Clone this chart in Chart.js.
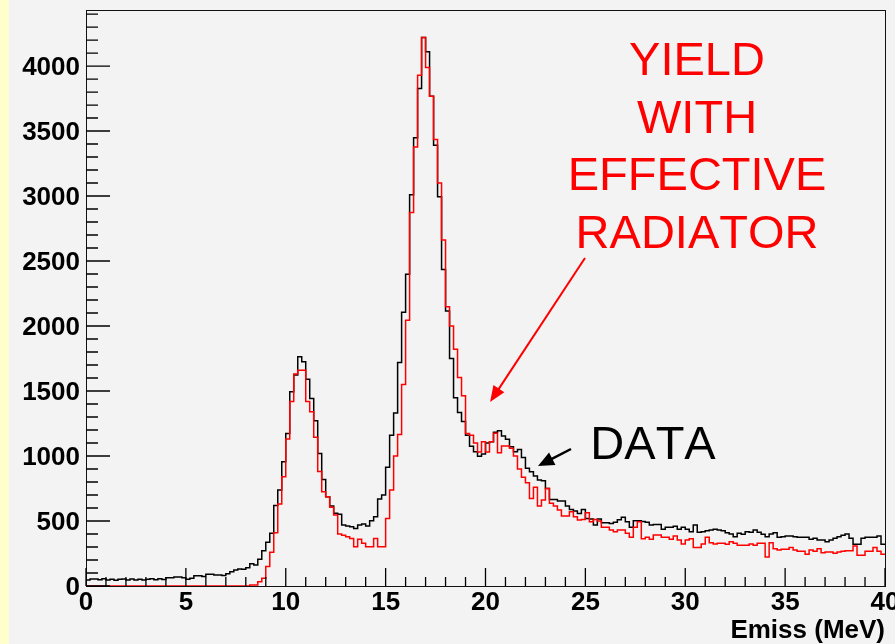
<!DOCTYPE html>
<html>
<head>
<meta charset="utf-8">
<script src="https://cdn.jsdelivr.net/npm/chart.js@4.4.1/dist/chart.umd.min.js"></script>
<style>
    html, body { margin: 0; padding: 0; background: #f3f3f3; }
</style>
</head>
<body>
<canvas id="emissChart" width="895" height="644"></canvas>
<script>
// histogram binning (MeV)
const xMin = 0;
const xMax = 40;
const binWidth = 0.2;
const yMax = 4431;

const xTickLabels = [0, 5, 10, 15, 20, 25, 30, 35, 40];
const yTickLabels = [0, 500, 1000, 1500, 2000, 2500, 3000, 3500, 4000];

// counts per 0.2 MeV bin
const dataCounts = [
    46, 54, 54, 49, 56, 46, 51, 44, 51, 54, 46, 54, 46, 51, 46, 51, 56, 49, 56, 50,
    64, 64, 69, 69, 64, 51, 59, 79, 79, 74, 90, 90, 85, 85, 80, 95, 110, 123, 130, 128,
    140, 172, 162, 205, 272, 336, 405, 620, 738, 956, 1174, 1494, 1623, 1764, 1726, 1590, 1443, 1271, 1020, 820,
    687, 615, 559, 551, 469, 461, 456, 443, 469, 477, 461, 502, 533, 669, 700, 913, 1160, 1330, 1720, 2105,
    2399, 3009, 3448, 3827, 4219, 4109, 3768, 3390, 2994, 2434, 2116, 1751, 1449, 1334, 1265, 1160, 1076, 1032, 999, 1015,
    1100, 1110, 1182, 1194, 1153, 1128, 1071, 1032, 1050, 989, 905, 879, 846, 815, 810, 751, 666, 666, 653, 653,
    615, 589, 576, 558, 589, 520, 515, 469, 515, 487, 487, 480, 490, 510, 528, 495, 451, 502, 502, 497,
    490, 469, 474, 474, 436, 451, 451, 459, 436, 451, 436, 418, 469, 413, 418, 425, 430, 436, 430, 425,
    410, 400, 379, 405, 398, 418, 413, 430, 413, 398, 379, 400, 410, 375, 379, 385, 385, 379, 375, 375,
    375, 359, 367, 354, 354, 341, 354, 367, 379, 390, 400, 367, 321, 321, 367, 375, 375, 375, 385, 321
];

const yieldCounts = [
    0, 0, 0, 0, 0, 0, 0, 0, 0, 0, 0, 0, 0, 0, 0, 0, 0, 0, 0, 0,
    0, 0, 0, 0, 0, 0, 0, 0, 0, 0, 0, 0, 0, 0, 0, 0, 0, 0, 0, 0,
    0, 8, 8, 33, 59, 150, 260, 410, 630, 841, 1130, 1420, 1630, 1660, 1660, 1420, 1340, 1145, 880, 725,
    687, 605, 546, 400, 390, 379, 366, 302, 359, 328, 302, 302, 366, 302, 302, 520, 738, 1000, 1166, 1551,
    2045, 2873, 3378, 3930, 4219, 3988, 3768, 3434, 3100, 2661, 2149, 2001, 1822, 1604, 1463, 1174, 1160, 1100, 1030, 1110,
    1030, 1110, 1176, 1025, 1077, 1077, 1060, 1000, 900, 836, 795, 674, 759, 615, 661, 751, 636, 615, 584, 538,
    538, 571, 533, 507, 512, 564, 494, 512, 500, 451, 451, 430, 418, 430, 430, 405, 375, 451, 495, 364,
    375, 359, 392, 392, 375, 375, 359, 385, 354, 323, 354, 364, 297, 297, 323, 375, 333, 323, 328, 328,
    321, 341, 328, 313, 313, 313, 323, 313, 328, 328, 223, 333, 287, 277, 282, 282, 297, 277, 267, 267,
    244, 277, 267, 287, 256, 262, 262, 251, 262, 267, 272, 272, 308, 236, 236, 267, 267, 297, 267, 244
];

// tick spacing for the inward ROOT-style ticks
const xMinorTicks = [];
for (let v = xMin; v <= xMax; v += 1) xMinorTicks.push(v);
const yMinorTicks = [];
for (let v = 0; v <= yMax; v += 100) yMinorTicks.push(v);

// annotations, in data units
const yieldLabelLines = ['YIELD', 'WITH', 'EFFECTIVE', 'RADIATOR'];
const yieldLabelBaselines = [3931, 3487, 3046, 2600];
const yieldLabelX = 30.59;
const dataLabel = { text: 'DATA', x: 25.25, y: 975 };
const yieldArrow = { from: [24.98, 2523], to: [20.23, 1415] };
const dataArrow = { from: [24.28, 1054], to: [22.63, 923] };

const fontFamily = '"Liberation Sans", Arial, Helvetica, sans-serif';
const axisFont = { family: fontFamily, size: 26, weight: 'bold' };

function toSteps(counts) {
    // one point per low bin edge, plus the closing edge
    const pts = counts.map((c, i) => ({ x: xMin + i * binWidth, y: c }));
    pts.push({ x: xMax, y: counts[counts.length - 1] });
    return pts;
}

function fixBox(width, height) {
    return function (scale) {
        if (width !== null) scale.width = width;
        if (height !== null) scale.height = height;
        scale.paddingLeft = 0;
        scale.paddingRight = 0;
        scale.paddingTop = 0;
        scale.paddingBottom = 0;
    };
}

function drawArrow(g, x1, y1, x2, y2, color, width, headLen, headWidth) {
    const ang = Math.atan2(y2 - y1, x2 - x1);
    const cos = Math.cos(ang), sin = Math.sin(ang);
    g.strokeStyle = color;
    g.lineWidth = width;
    g.beginPath();
    g.moveTo(x1, y1);
    g.lineTo(x2 - cos * headLen * 0.8, y2 - sin * headLen * 0.8);
    g.stroke();
    g.fillStyle = color;
    g.beginPath();
    g.moveTo(x2, y2);
    g.lineTo(x2 - headLen * cos + headWidth / 2 * sin, y2 - headLen * sin - headWidth / 2 * cos);
    g.lineTo(x2 - headLen * cos - headWidth / 2 * sin, y2 - headLen * sin + headWidth / 2 * cos);
    g.closePath();
    g.fill();
}

const rootFrame = {
    id: 'rootFrame',
    beforeDraw(chart) {
        const g = chart.ctx;
        g.save();
        g.fillStyle = '#f3f3f3';
        g.fillRect(0, 0, chart.width, chart.height);
        g.fillStyle = '#ffffcc';
        g.fillRect(0, 0, 9, chart.height);
        g.restore();
    },
    beforeDatasetsDraw(chart) {
        const g = chart.ctx;
        const a = chart.chartArea;
        g.save();
        g.strokeStyle = '#111';
        g.lineWidth = 1;
        g.strokeRect(a.left + 0.5, a.top + 0.5, a.right - a.left, a.bottom - a.top);
        g.restore();
    },
    afterDraw(chart) {
        const g = chart.ctx;
        const a = chart.chartArea;
        const x = chart.scales.x;
        const y = chart.scales.y;
        g.save();

        // inward ticks: long every 5 MeV / 500 counts
        g.strokeStyle = '#000';
        g.lineWidth = 1.3;
        g.beginPath();
        xMinorTicks.forEach(v => {
            const px = x.getPixelForValue(v);
            const len = v % 5 === 0 ? 18 : 9;
            g.moveTo(px, a.bottom);
            g.lineTo(px, a.bottom - len);
        });
        yMinorTicks.forEach(v => {
            const py = y.getPixelForValue(v);
            const len = v % 500 === 0 ? 24 : 12;
            g.moveTo(a.left, py);
            g.lineTo(a.left + len, py);
        });
        g.stroke();

        g.fontKerning = 'none';
        g.textBaseline = 'alphabetic';
        g.font = '47px ' + fontFamily;
        g.fillStyle = '#ff0000';
        g.textAlign = 'center';
        yieldLabelLines.forEach((line, i) => {
            g.fillText(line, x.getPixelForValue(yieldLabelX), y.getPixelForValue(yieldLabelBaselines[i]));
        });
        g.fillStyle = '#000';
        g.textAlign = 'left';
        g.fillText(dataLabel.text, x.getPixelForValue(dataLabel.x), y.getPixelForValue(dataLabel.y));

        drawArrow(g,
            x.getPixelForValue(yieldArrow.from[0]), y.getPixelForValue(yieldArrow.from[1]),
            x.getPixelForValue(yieldArrow.to[0]), y.getPixelForValue(yieldArrow.to[1]),
            '#ff0000', 2, 16, 13);
        drawArrow(g,
            x.getPixelForValue(dataArrow.from[0]), y.getPixelForValue(dataArrow.from[1]),
            x.getPixelForValue(dataArrow.to[0]), y.getPixelForValue(dataArrow.to[1]),
            '#000', 2.5, 16, 14);
        g.restore();
    }
};

new Chart(document.getElementById('emissChart'), {
    type: 'line',
    data: {
        datasets: [
            {
                label: 'DATA',
                data: toSteps(dataCounts),
                borderColor: '#000',
                borderWidth: 1.5,
                stepped: 'before',
                pointRadius: 0,
                fill: false,
                order: 2
            },
            {
                label: 'YIELD WITH EFFECTIVE RADIATOR',
                data: toSteps(yieldCounts),
                borderColor: '#ff0000',
                borderWidth: 1.5,
                stepped: 'before',
                pointRadius: 0,
                fill: false,
                order: 1
            }
        ]
    },
    options: {
        responsive: false,
        animation: false,
        devicePixelRatio: 1,
        layout: {
            padding: { left: 0, top: 10, right: 10, bottom: -2 }
        },
        scales: {
            x: {
                type: 'linear',
                min: xMin,
                max: xMax,
                grid: { display: false, drawTicks: false },
                border: { display: false },
                afterBuildTicks: function (scale) {
                    scale.ticks = xTickLabels.map(v => ({ value: v }));
                },
                ticks: {
                    padding: 1,
                    color: '#000',
                    font: axisFont,
                    maxRotation: 0,
                    autoSkip: false,
                    callback: function (value) { return String(value); }
                },
                title: {
                    display: true,
                    text: 'Emiss (MeV)',
                    align: 'end',
                    color: '#000',
                    font: axisFont,
                    padding: 0
                },
                afterFit: fixBox(null, 60)
            },
            y: {
                type: 'linear',
                min: 0,
                max: yMax,
                grid: { display: false, drawTicks: false },
                border: { display: false },
                afterBuildTicks: function (scale) {
                    scale.ticks = yTickLabels.map(v => ({ value: v }));
                },
                ticks: {
                    padding: 6,
                    labelOffset: 2,
                    color: '#000',
                    font: axisFont,
                    autoSkip: false,
                    callback: function (value) { return String(value); }
                },
                afterFit: fixBox(86, null)
            }
        },
        plugins: {
            legend: { display: false },
            tooltip: { enabled: false }
        }
    },
    plugins: [rootFrame]
});
</script>
</body>
</html>
